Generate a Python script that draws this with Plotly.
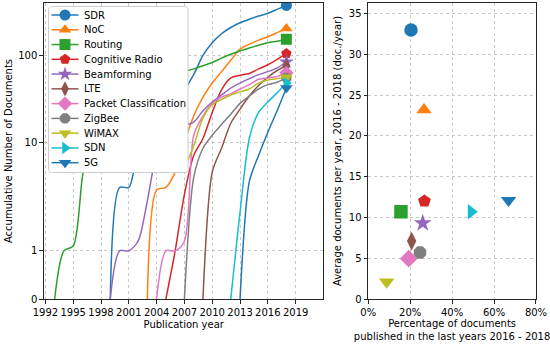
import numpy as np
import plotly.graph_objects as go

# ---------------- data ----------------
names = ["SDR", "NoC", "Routing", "Cognitive Radio", "Beamforming", "LTE",
         "Packet Classification", "ZigBee", "WiMAX", "SDN", "5G"]
colors = ["#1f77b4", "#ff7f0e", "#2ca02c", "#d62728", "#9467bd", "#8c564b",
          "#e377c2", "#7f7f7f", "#bcbd22", "#17becf", "#1f77b4"]
symbols = ["circle", "triangle-up", "square", "pentagon", "star", "diamond-tall",
           "diamond", "octagon", "triangle-down", "triangle-right", "triangle-down"]

sdr_years = list(range(1999, 2019))
sdr_docs = [0, 3, 3, 8, 12, 16, 21, 28, 40, 60, 100, 140, 178, 210, 238, 262, 285, 306, 340, 378]
noc_years = list(range(2003, 2019))
noc_docs = [0, 2.8, 3, 4.5, 10, 20, 33, 48, 65, 88, 118, 135, 150, 164, 183, 205]
routing_years = list(range(1993, 2019))
routing_docs = [0, 1, 1.1, 4, 14, 20, 26, 31, 36, 41, 46, 51, 56, 61, 65, 70, 76, 83, 93,
                103, 113, 122, 131, 140, 146, 154]
cr_years = list(range(2005, 2019))
cr_docs = [0, 1, 2.5, 7, 11, 22, 40, 55, 59, 62, 70, 78, 90, 105]
beam_years = list(range(1999, 2019))
beam_docs = [0, 1, 1, 1.2, 2.1, 7, 10, 14, 15.5, 17, 23, 29, 35, 42, 48, 54, 60, 65, 72, 84]
lte_years = list(range(2009, 2019))
lte_docs = [0, 4.5, 8.5, 16.5, 24, 34, 45, 56, 67, 76]
pc_years = list(range(2004, 2019))
pc_docs = [0, 1, 1, 1.2, 12, 20, 28, 33, 36, 41, 46, 53, 55, 57, 63]
zigbee_years = list(range(2007, 2019))
zigbee_docs = [0, 3.9, 8.5, 12, 16, 21, 28, 34, 41, 46, 49, 55]
wimax_years = list(range(2007, 2019))
wimax_docs = [5, 9, 19, 27, 31, 35, 38, 41, 48, 52, 54, 56]
sdn_years = list(range(2012, 2019))
sdn_docs = [0, 1.8, 11, 22, 29, 37, 48]
g5_years = list(range(2013, 2019))
g5_docs = [0, 3.5, 7, 13, 23, 42]

series_years = [sdr_years, noc_years, routing_years, cr_years, beam_years, lte_years,
                pc_years, zigbee_years, wimax_years, sdn_years, g5_years]
series_docs = [sdr_docs, noc_docs, routing_docs, cr_docs, beam_docs, lte_docs,
               pc_docs, zigbee_docs, wimax_docs, sdn_docs, g5_docs]

# right panel
pct_recent = [0.204, 0.266, 0.156, 0.268, 0.26, 0.207, 0.193, 0.247, 0.088, 0.491, 0.669]
avg_per_year = [33.0, 23.2, 10.7, 12.0, 9.3, 7.1, 4.95, 5.7, 2.1, 10.7, 12.1]

year_ticks = list(range(1992, 2020, 3))
y_ticks = [0, 1, 10, 100]


# symmetric-log scale (linthresh=2, linscale=1), as in matplotlib
def symlog(v, t=2.0):
    v = np.asarray(v, dtype=float)
    lin = 1.0 / (1.0 - 0.1)
    safe = np.maximum(v, 1e-9)
    return np.where(v <= t, v * lin, t * (lin + np.log10(safe / t)))


W, H = 550, 344
ML, MR, MT, MB = 44, 14, 3, 45

fig = go.Figure()

for i in range(len(names)):
    yrs = series_years[i]
    ys = symlog(series_docs[i])
    fig.add_trace(go.Scatter(
        x=yrs, y=ys, mode="lines",
        line=dict(color=colors[i], width=1.5, shape="spline", smoothing=0.8),
        showlegend=False, hoverinfo="skip", xaxis="x", yaxis="y"))
    fig.add_trace(go.Scatter(
        x=[yrs[-1]], y=[ys[-1]], mode="markers",
        marker=dict(color=colors[i], symbol=symbols[i], size=11, line=dict(width=0)),
        showlegend=False, xaxis="x", yaxis="y"))

for i in range(len(names)):
    fig.add_trace(go.Scatter(
        x=[pct_recent[i]], y=[avg_per_year[i]], mode="markers",
        marker=dict(color=colors[i], symbol=symbols[i], size=13.5, line=dict(width=0)),
        showlegend=False, xaxis="x2", yaxis="y2"))

# ---------- hand-drawn legend on a pixel overlay (x3/y3) ----------
lx0, lx1, ly0, ly1, rad = 48.5, 188.0, 6.5, 172.5, 3.0
ang = np.linspace(0, np.pi / 2, 8)
bx, by = [], []
for cx, cy, a0 in [(lx1 - rad, ly0 + rad, -np.pi / 2), (lx1 - rad, ly1 - rad, 0),
                   (lx0 + rad, ly1 - rad, np.pi / 2), (lx0 + rad, ly0 + rad, np.pi)]:
    bx += list(cx + rad * np.cos(a0 + ang))
    by += list(cy + rad * np.sin(a0 + ang))
bx.append(bx[0]); by.append(by[0])
fig.add_trace(go.Scatter(x=bx, y=by, mode="lines", fill="toself", fillcolor="white",
                         line=dict(color="#cccccc", width=1), showlegend=False,
                         hoverinfo="skip", xaxis="x3", yaxis="y3"))
row0, row_gap = 15.0, 14.77
annotations = []
for i in range(len(names)):
    yc = row0 + row_gap * i
    fig.add_trace(go.Scatter(x=[51.5, 78.5], y=[yc, yc], mode="lines",
                             line=dict(color=colors[i], width=1.5), showlegend=False,
                             hoverinfo="skip", xaxis="x3", yaxis="y3"))
    fig.add_trace(go.Scatter(x=[65], y=[yc], mode="markers",
                             marker=dict(color=colors[i], symbol=symbols[i], size=11,
                                         line=dict(width=0)),
                             showlegend=False, hoverinfo="skip", xaxis="x3", yaxis="y3"))
    annotations.append(dict(x=82, y=yc, xref="x3", yref="y3", text=names[i],
                            showarrow=False, xanchor="left", yanchor="middle",
                            font=dict(size=10, color="black")))

axis_common = dict(
    showline=True, mirror=True, linecolor="#262626", linewidth=1.3,
    ticks="outside", ticklen=3.5, tickcolor="#262626", tickwidth=1,
    showgrid=True, gridcolor="#c8c8c8", griddash="3px,3px", gridwidth=1,
    zeroline=False, tickfont=dict(size=10, color="black"), automargin=False,
)

fig.update_layout(
    width=W, height=H,
    margin=dict(l=ML, r=MR, t=MT, b=MB, autoexpand=False),
    plot_bgcolor="rgba(0,0,0,0)", paper_bgcolor="white",
    font=dict(family="DejaVu Sans", size=10, color="black"),
    showlegend=False,
    xaxis=dict(domain=[0, 0.568], range=[1991.85, 2022.0], tickvals=year_ticks,
               title=dict(text="Publication year", standoff=4, font=dict(size=10)),
               anchor="y", **axis_common),
    yaxis=dict(domain=[0, 1], range=[0, 6.83], tickvals=list(symlog(y_ticks)),
               ticktext=[str(v) for v in y_ticks],
               title=dict(text="Accumulative Number of Documents", standoff=3, font=dict(size=10)),
               anchor="x", **axis_common),
    xaxis2=dict(domain=[0.659, 1], range=[0, 0.8], dtick=0.2, tick0=0, tickformat=".0%",
                title=dict(text="Percentage of documents<br>published in the last years 2016 - 2018",
                           standoff=3, font=dict(size=10)),
                anchor="y2", **axis_common),
    yaxis2=dict(domain=[0, 1], range=[0, 36.3], dtick=5, tick0=0,
                title=dict(text="Average documents per year, 2016 - 2018 (doc./year)",
                           standoff=5, font=dict(size=10)),
                anchor="x2", **axis_common),
    xaxis3=dict(domain=[0, 1], range=[ML, W - MR], visible=False, anchor="y3",
                fixedrange=True),
    yaxis3=dict(domain=[0, 1], range=[H - MB, MT], visible=False, anchor="x3",
                fixedrange=True),
    annotations=annotations,
)

fig.write_html("out.html", config={"displayModeBar": False},
               post_script="document.body.style.margin='0px';document.body.style.overflow='hidden';")
